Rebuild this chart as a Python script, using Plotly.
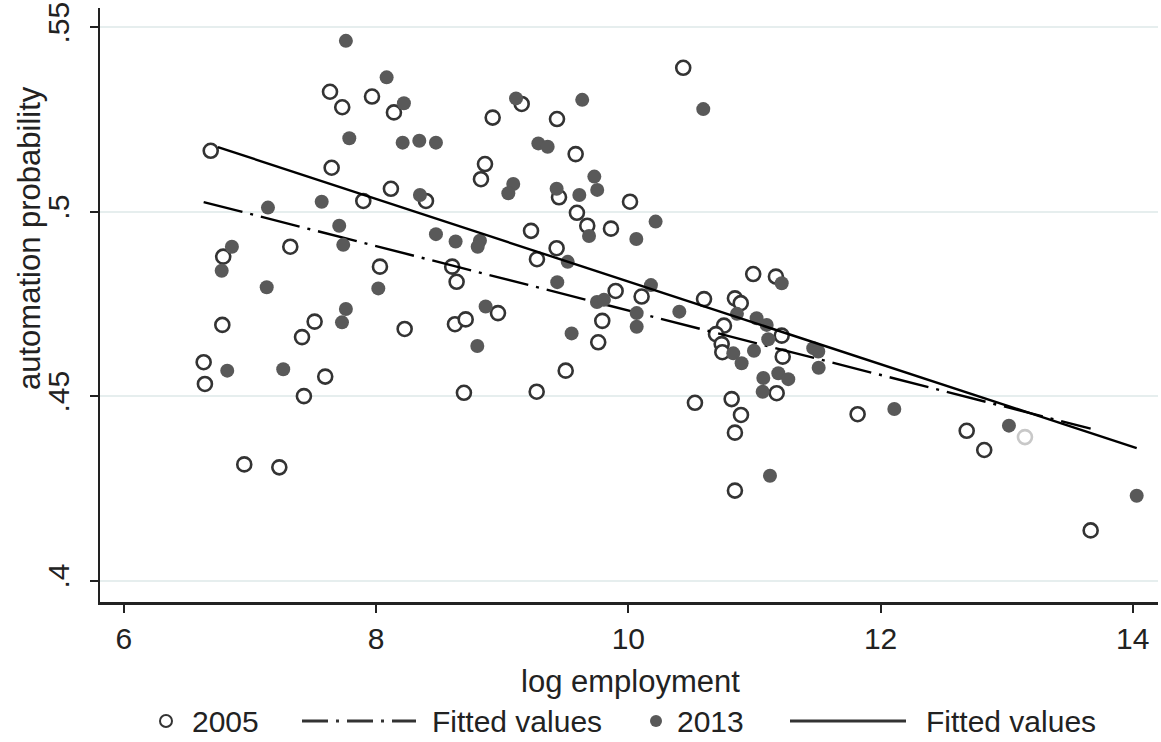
import plotly.graph_objects as go

# 2005 observations (open circles)
x2005 = [6.688, 7.634, 7.731, 7.967, 8.141, 8.924, 7.647, 8.117, 7.898, 8.395,
         8.863, 8.831, 7.319, 6.787, 8.030, 8.603, 8.638, 6.780, 7.512, 7.412,
         8.226, 8.625, 8.710, 8.966, 6.632, 6.642, 7.596, 7.427, 8.696, 6.954,
         7.232, 10.435, 9.154, 9.434, 9.582, 9.450, 10.013, 9.592, 9.674, 9.862,
         9.228, 9.431, 9.275, 10.990, 11.170, 9.899, 10.105, 10.600, 10.845, 10.891,
         9.793, 9.761, 9.503, 9.273, 10.758, 10.695, 10.740, 10.745, 11.216, 11.224,
         11.176, 10.528, 10.819, 10.893, 10.845, 10.845, 11.818, 12.683, 12.822, 13.145,
         13.666]
y2005 = [0.5165, 0.5325, 0.5283, 0.5312, 0.5269, 0.5255, 0.5119, 0.5062, 0.5029, 0.5029,
         0.5129, 0.5088, 0.4905, 0.4878, 0.4851, 0.4851, 0.4810, 0.4693, 0.4702, 0.4660,
         0.4682, 0.4695, 0.4708, 0.4725, 0.4592, 0.4533, 0.4553, 0.4500, 0.4509, 0.4315,
         0.4307, 0.5390, 0.5292, 0.5251, 0.5156, 0.5039, 0.5027, 0.4997, 0.4962, 0.4954,
         0.4948, 0.4901, 0.4871, 0.4831, 0.4824, 0.4785, 0.4770, 0.4763, 0.4765, 0.4752,
         0.4704, 0.4646, 0.4569, 0.4512, 0.4691, 0.4668, 0.4641, 0.4619, 0.4664, 0.4607,
         0.4508, 0.4482, 0.4492, 0.4449, 0.4401, 0.4244, 0.4451, 0.4406, 0.4354, 0.4389,
         0.4136]

# 2013 observations (filled circles)
x2013 = [7.760, 8.083, 8.220, 7.787, 8.210, 8.342, 8.474, 7.142, 7.568, 7.707,
         7.739, 6.856, 6.775, 7.132, 8.017, 8.347, 8.474, 8.630, 8.823, 8.805,
         7.760, 7.729, 8.868, 8.802, 6.819, 7.263, 9.109, 9.634, 10.594, 9.286,
         9.360, 9.087, 9.048, 9.431, 9.611, 9.730, 9.753, 10.216, 9.688, 10.063,
         9.519, 9.436, 10.179, 11.216, 9.751, 9.806, 10.066, 10.066, 10.404, 9.550,
         11.017, 11.097, 10.861, 11.109, 10.996, 10.832, 10.898, 11.466, 11.506, 11.509,
         11.070, 11.189, 11.268, 11.065, 11.123, 12.109, 13.018, 14.031]
y2013 = [0.5463, 0.5364, 0.5294, 0.5199, 0.5187, 0.5192, 0.5187, 0.5011, 0.5027, 0.4962,
         0.4910, 0.4905, 0.4840, 0.4795, 0.4792, 0.5045, 0.4939, 0.4919, 0.4921, 0.4905,
         0.4736, 0.4700, 0.4743, 0.4636, 0.4569, 0.4573, 0.5307, 0.5303, 0.5278, 0.5185,
         0.5176, 0.5075, 0.5050, 0.5062, 0.5045, 0.5095, 0.5059, 0.4973, 0.4934, 0.4926,
         0.4864, 0.4809, 0.4801, 0.4806, 0.4755, 0.4761, 0.4725, 0.4688, 0.4729, 0.4670,
         0.4711, 0.4693, 0.4723, 0.4654, 0.4623, 0.4616, 0.4589, 0.4630, 0.4621, 0.4577,
         0.4549, 0.4562, 0.4546, 0.4512, 0.4284, 0.4465, 0.4420, 0.4230]

# Fitted values (endpoints of the linear fits)
fit2005_x = [6.632, 13.666]
fit2005_y = [0.5026, 0.4412]
fit2013_x = [6.745, 14.031]
fit2013_y = [0.5175, 0.4359]

y_ticks = [0.40, 0.45, 0.50, 0.55]
y_ticklabels = [".4", ".45", ".5", ".55"]
x_ticks = [6, 8, 10, 12, 14]
legend_labels = ["2005", "Fitted values", "2013", "Fitted values"]

FONT = "Liberation Sans, Arial, sans-serif"
INK = "#222222"
OPEN_EDGE = "#333333"
FILL = "#595959"
DASHDOT = "40px,8px,3px,8px"

open_line_colors = [OPEN_EDGE] * len(x2005)
open_line_colors[69] = "#c8c8c8"

fig = go.Figure()
fig.add_trace(go.Scatter(
    x=x2005, y=y2005, mode="markers", name=legend_labels[0],
    marker=dict(symbol="circle", size=14, color="white",
                line=dict(color=open_line_colors, width=2.6)),
))
fig.add_trace(go.Scatter(
    x=fit2005_x, y=fit2005_y, mode="lines", name=legend_labels[1],
    line=dict(color="black", width=2.4, dash=DASHDOT),
))
fig.add_trace(go.Scatter(
    x=x2013, y=y2013, mode="markers", name=legend_labels[2],
    marker=dict(symbol="circle", size=14, color=FILL, line=dict(width=0)),
))
fig.add_trace(go.Scatter(
    x=fit2013_x, y=fit2013_y, mode="lines", name=legend_labels[3],
    line=dict(color="black", width=2.4),
))

# plot area at pixels x 100..1158, y 8..602 (body margin removed below)
W_PLOT, H_PLOT, L_PAGE, T_PAGE = 1058, 594, 100, 8

def px2paper_x(px):
    return (px - L_PAGE) / W_PLOT

def py2paper_y(py):
    return (T_PAGE + H_PLOT - py) / H_PLOT

leg_y = py2paper_y(721)
shapes = [
    dict(type="circle", xref="paper", yref="paper", xsizemode="pixel", ysizemode="pixel",
         xanchor=px2paper_x(166), yanchor=leg_y, x0=-6, x1=6, y0=-6, y1=6,
         line=dict(color=OPEN_EDGE, width=2), fillcolor="white"),
    dict(type="line", xref="paper", yref="paper",
         x0=px2paper_x(302), x1=px2paper_x(416), y0=leg_y, y1=leg_y,
         line=dict(color="#333333", width=3, dash="26px,8px,3px,8px")),
    dict(type="circle", xref="paper", yref="paper", xsizemode="pixel", ysizemode="pixel",
         xanchor=px2paper_x(656), yanchor=leg_y, x0=-6, x1=6, y0=-6, y1=6,
         line=dict(width=0), fillcolor=FILL),
    dict(type="line", xref="paper", yref="paper",
         x0=px2paper_x(790), x1=px2paper_x(906), y0=leg_y, y1=leg_y,
         line=dict(color="#333333", width=3)),
]
annotations = [
    dict(text=legend_labels[0], x=px2paper_x(190), y=leg_y),
    dict(text=legend_labels[1], x=px2paper_x(430), y=leg_y),
    dict(text=legend_labels[2], x=px2paper_x(675), y=leg_y),
    dict(text=legend_labels[3], x=px2paper_x(924), y=leg_y),
]
for a in annotations:
    a.update(xref="paper", yref="paper", xanchor="left", yanchor="middle",
             showarrow=False, font=dict(size=30, color=INK))

# axis titles
annotations.append(dict(text="log employment", xref="paper", yref="paper",
                        x=px2paper_x(630), y=py2paper_y(681), xanchor="center",
                        yanchor="middle", showarrow=False, font=dict(size=31, color=INK)))
annotations.append(dict(text="automation probability", xref="paper", yref="paper",
                        x=px2paper_x(29), y=py2paper_y(238), xanchor="center",
                        yanchor="middle", textangle=-90, showarrow=False,
                        font=dict(size=31, color=INK)))

fig.update_layout(
    width=1161, height=742,
    margin=dict(l=L_PAGE, r=1161 - L_PAGE - W_PLOT, t=T_PAGE,
                b=742 - T_PAGE - H_PLOT, autoexpand=False),
    paper_bgcolor="white", plot_bgcolor="white",
    font=dict(family=FONT, size=30, color=INK),
    showlegend=False,
    shapes=shapes, annotations=annotations,
    xaxis=dict(
        range=[5.81, 14.2], tickvals=x_ticks, ticks="outside", ticklen=8,
        tickwidth=1.5, tickcolor=INK, automargin=False, ticklabeloverflow="allow",
        showgrid=False, zeroline=False, showline=True, linecolor=INK, linewidth=2.5,
        tickfont=dict(size=30), ticklabelstandoff=0,
    ),
    yaxis=dict(
        range=[0.3942, 0.5552], tickvals=y_ticks, ticktext=y_ticklabels,
        ticks="outside", ticklen=8, tickwidth=1.5, tickcolor=INK,
        tickangle=-90, automargin=False, ticklabelstandoff=9,
        ticklabeloverflow="allow",
        showgrid=True, gridcolor="#e6eeee", gridwidth=2,
        zeroline=False, showline=True, linecolor=INK, linewidth=2,
        tickfont=dict(size=30),
    ),
)

fig.write_html(
    "out.html",
    config={"displayModeBar": False},
    post_script="document.body.style.margin='0';"
                "document.documentElement.style.overflow='hidden';",
)
